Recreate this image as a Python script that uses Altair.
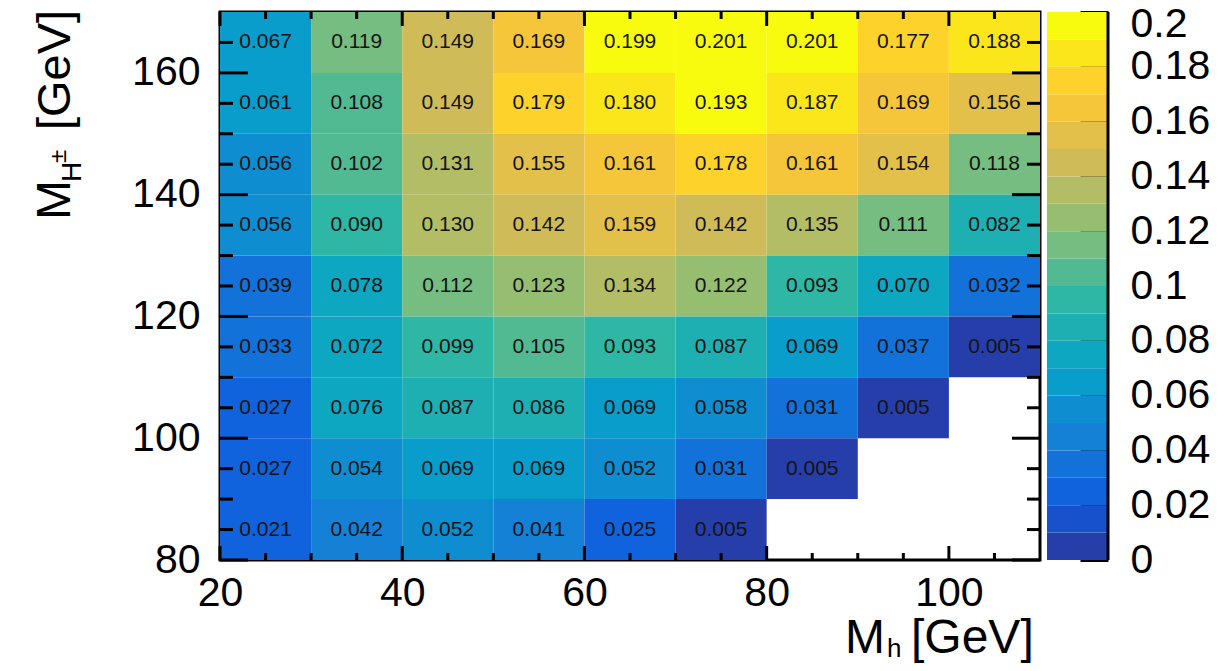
import altair as alt
import pandas as pd
import numpy as np

# ---------------- data ----------------
mh_lo = [20, 30, 40, 50, 60, 70, 80, 90, 100]          # M_h bin lower edges [GeV]
mhpm_lo = [160, 150, 140, 130, 120, 110, 100, 90, 80]   # M_H+- bin lower edges [GeV]
bin_w = 10

row_160 = [0.067, 0.119, 0.149, 0.169, 0.199, 0.201, 0.201, 0.177, 0.188]
row_150 = [0.061, 0.108, 0.149, 0.179, 0.180, 0.193, 0.187, 0.169, 0.156]
row_140 = [0.056, 0.102, 0.131, 0.155, 0.161, 0.178, 0.161, 0.154, 0.118]
row_130 = [0.056, 0.090, 0.130, 0.142, 0.159, 0.142, 0.135, 0.111, 0.082]
row_120 = [0.039, 0.078, 0.112, 0.123, 0.134, 0.122, 0.093, 0.070, 0.032]
row_110 = [0.033, 0.072, 0.099, 0.105, 0.093, 0.087, 0.069, 0.037, 0.005]
row_100 = [0.027, 0.076, 0.087, 0.086, 0.069, 0.058, 0.031, 0.005, None]
row_90 = [0.027, 0.054, 0.069, 0.069, 0.052, 0.031, 0.005, None, None]
row_80 = [0.021, 0.042, 0.052, 0.041, 0.025, 0.005, None, None, None]
rows = [row_160, row_150, row_140, row_130, row_120, row_110, row_100, row_90, row_80]

x_tick_labels = [20, 40, 60, 80, 100]
y_tick_labels = [80, 100, 120, 140, 160]
x_minor = [25, 30, 35, 45, 50, 55, 65, 70, 75, 85, 90, 95, 105]
y_minor = [85, 90, 95, 105, 110, 115, 125, 130, 135, 145, 150, 155, 165]
z_ticks = [0, 0.02, 0.04, 0.06, 0.08, 0.1, 0.12, 0.14, 0.16, 0.18, 0.2]
z_levels_lo = [0.00, 0.01, 0.02, 0.03, 0.04, 0.05, 0.06, 0.07, 0.08, 0.09,
               0.10, 0.11, 0.12, 0.13, 0.14, 0.15, 0.16, 0.17, 0.18, 0.19]
z_step = 0.01

# ---------------- palette (ROOT kBird, 20 contours) ----------------
stops = [0.0, 0.125, 0.25, 0.375, 0.5, 0.625, 0.75, 0.875, 1.0]
red = [0.2082, 0.0592, 0.0780, 0.0232, 0.1802, 0.5301, 0.8186, 0.9956, 0.9764]
green = [0.1664, 0.3599, 0.5041, 0.6419, 0.7178, 0.7492, 0.7328, 0.7862, 0.9832]
blue = [0.5293, 0.8684, 0.8385, 0.7914, 0.6425, 0.4662, 0.3499, 0.1968, 0.0539]
palette = []
for i in range(len(z_levels_lo)):
    p = (i + 0.99) / len(z_levels_lo)
    r, g, b = (np.interp(p, stops, c) for c in (red, green, blue))
    palette.append("#%02x%02x%02x" % (int(round(r * 255)), int(round(g * 255)), int(round(b * 255))))
thresholds = z_levels_lo[1:]
color_scale = alt.Scale(type="threshold", domain=thresholds, range=palette)

# ---------------- tables ----------------
recs = []
for yl, row in zip(mhpm_lo, rows):
    for xl, v in zip(mh_lo, row):
        if v is None:
            continue
        recs.append({"x": xl, "x2": xl + bin_w, "y": yl, "y2": yl + bin_w,
                     "xc": xl + bin_w / 2, "yc": yl + bin_w / 2, "v": v})
df = pd.DataFrame(recs)

cb = pd.DataFrame({"lo": z_levels_lo,
                   "hi": [z + z_step for z in z_levels_lo],
                   "mid": [z + z_step / 2 for z in z_levels_lo],
                   "c0": 0, "c1": 1})
cb_edge = pd.DataFrame({"c": [1], "lo": [0.0], "hi": [0.2]})

W, H = 820, 548
FONT = "Liberation Sans"

xs = alt.Scale(domain=[20, 110], nice=False, zero=False)
ys = alt.Scale(domain=[80, 170], nice=False, zero=False)

heat = alt.Chart(df).mark_rect().encode(
    x=alt.X("x:Q", scale=xs, axis=alt.Axis(
        title="", values=x_tick_labels, labelFontSize=41, labelFont=FONT,
        labelColor="black", labelPadding=13, labelFlush=False, ticks=False,
        domain=False, grid=False, labelOverlap=False)),
    x2="x2:Q",
    y=alt.Y("y:Q", scale=ys, axis=alt.Axis(
        title="", values=y_tick_labels, labelFontSize=41, labelFont=FONT,
        labelColor="black", labelPadding=20, labelFlush=False, ticks=False,
        domain=False, grid=False, labelOverlap=False)),
    y2="y2:Q",
    color=alt.Color("v:Q", scale=color_scale, legend=None),
)

labels = alt.Chart(df).mark_text(fontSize=21, font=FONT, color="#141414").encode(
    x=alt.X("xc:Q", scale=xs),
    y=alt.Y("yc:Q", scale=ys),
    text=alt.Text("v:Q", format=".3f"),
)

def yticks(vals, x0, x1):
    return alt.Chart(pd.DataFrame({"y": vals})).mark_rule(color="black", strokeWidth=3).encode(
        y=alt.Y("y:Q", scale=ys), x=alt.value(x0), x2=alt.value(x1))

def xticks(vals, y0, y1):
    return alt.Chart(pd.DataFrame({"x": vals})).mark_rule(color="black", strokeWidth=3).encode(
        x=alt.X("x:Q", scale=xs), y=alt.value(y0), y2=alt.value(y1))

tick_layers = [
    yticks(y_tick_labels, 0, 28), yticks(y_minor, 0, 13),
    yticks(y_tick_labels, W - 28, W), yticks(y_minor, W - 13, W),
    xticks(x_tick_labels, H, H - 14), xticks(x_minor, H, H - 7),
    xticks(x_tick_labels, 0, 14), xticks(x_minor, 0, 7),
]

def label(txt, x, y, size, angle=0):
    kw = dict(fontSize=size, font=FONT, color="black", align="left", baseline="alphabetic")
    if angle:
        kw["angle"] = angle
    return alt.Chart(pd.DataFrame({"t": [txt]})).mark_text(**kw).encode(
        x=alt.value(x), y=alt.value(y), text="t:N")

titles = [
    label("M", 625, 641, 48), label("h", 667, 645, 26), label("[GeV]", 691, 641, 48),
    label("M", -150, 208, 48, 270), label("H", -139, 170, 28, 270),
    label("±", -154, 151, 24, 270), label("[GeV]", -150, 118, 47, 270),
]

main = alt.layer(heat, labels, *tick_layers, *titles)

cbx = alt.Scale(domain=[0, 1], range=[827, 888])
cby = alt.Scale(domain=[0, 0.2], nice=False, zero=False)
cbar = alt.Chart(cb).mark_rect().encode(
    x=alt.X("c0:Q", scale=cbx, axis=None),
    x2="c1:Q",
    y=alt.Y("lo:Q", scale=cby, axis=alt.Axis(
        orient="right", offset=40, title="", values=z_ticks, format="~g",
        labelFontSize=41, labelFont=FONT, labelColor="black", labelPadding=22,
        tickSize=28, tickWidth=3, tickColor="black", domain=False, grid=False,
        labelOverlap=False, labelFlush=False,
        labelOffset={"condition": {"test": "datum.value >= 0.2", "value": 12}, "value": 0})),
    y2="hi:Q",
    color=alt.Color("mid:Q", scale=color_scale, legend=None),
)
cbar_edge = alt.Chart(cb_edge).mark_rule(color="black", strokeWidth=3).encode(
    x=alt.X("c:Q", scale=cbx, axis=None),
    y=alt.Y("lo:Q", scale=cby),
    y2="hi:Q",
)
colorbar = alt.layer(cbar, cbar_edge)

chart = alt.layer(main, colorbar).resolve_scale(
    x="independent", y="independent"
).properties(
    width=W, height=H,
    autosize=alt.AutoSizeParams(type="none"),
    padding={"left": 212, "top": 4, "right": 174, "bottom": 103},
    background="white",
).configure_view(stroke="black", strokeWidth=3)

chart.save("out.html", embed_options={"renderer": "svg", "actions": False})
